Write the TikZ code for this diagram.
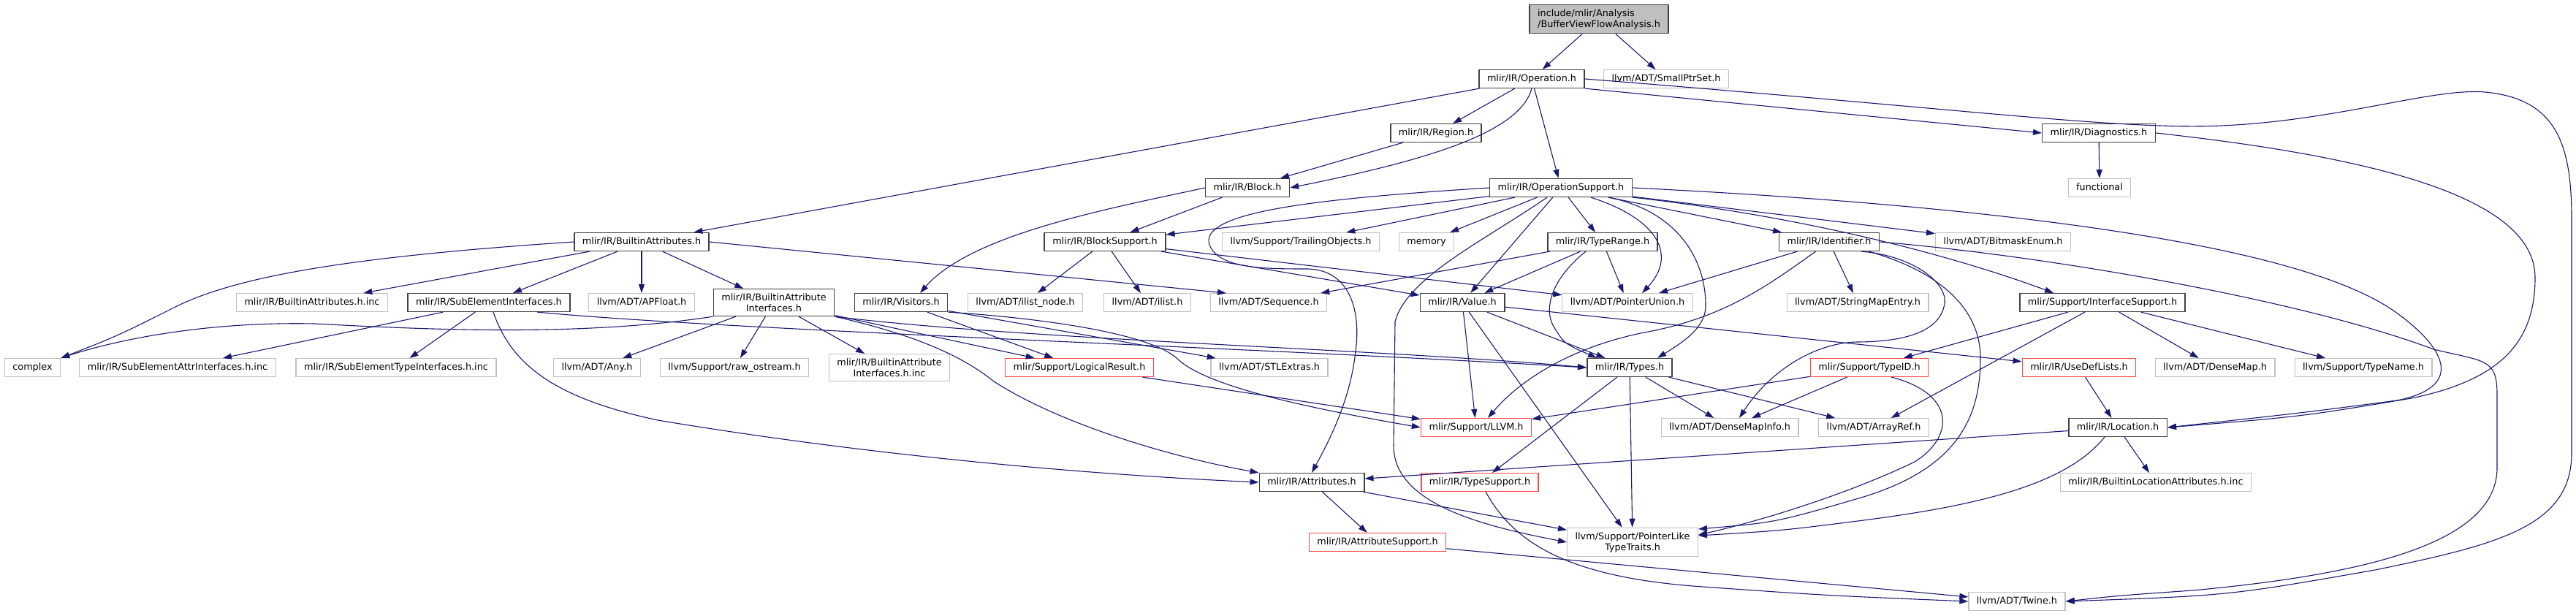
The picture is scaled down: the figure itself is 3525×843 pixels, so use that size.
\documentclass[tikz,border=0pt]{standalone}
\usepackage{fontspec}
\setmainfont{DejaVu Sans}
\usetikzlibrary{arrows.meta}
\definecolor{edgeblue}{RGB}{25,25,112}
\definecolor{cutred}{RGB}{255,70,70}
\tikzset{
  hdr/.style={draw=black!75,fill=white,line width=1.5pt,inner xsep=11pt,inner ysep=6pt,
    text height=9.7pt,text depth=3pt,font=\fontsize{12.8}{15}\selectfont},
  ext/.style={hdr,draw=black!25,line width=1.2pt},
  cut/.style={hdr,draw=cutred,line width=1.4pt},
  two/.style={align=center,text height=,text depth=},
  dep/.style={draw=edgeblue,line width=1.1pt,-{Triangle[length=12pt,width=8pt]}}
}
\begin{document}
\begin{tikzpicture}[x=1pt,y=-1pt]
\path[use as bounding box] (0,0) rectangle (3525,843);
\node[hdr,fill=black!25,align=left,text height=,text depth=] (root) at (2188,26) {include/mlir/Analysis\\/BufferViewFlowAnalysis.h};
\node[hdr] (op) at (2096,108) {mlir/IR/Operation.h};
\node[ext] (smallptr) at (2280,108) {llvm/ADT/SmallPtrSet.h};
\node[hdr] (region) at (1965,182) {mlir/IR/Region.h};
\node[hdr] (diag) at (2872,182) {mlir/IR/Diagnostics.h};
\node[hdr] (block) at (1707,257) {mlir/IR/Block.h};
\node[hdr] (opsup) at (2136,257) {mlir/IR/OperationSupport.h};
\node[ext] (functional) at (2873,257) {functional};
\node[hdr] (battr) at (878,331) {mlir/IR/BuiltinAttributes.h};
\node[hdr] (blocksup) at (1512,331) {mlir/IR/BlockSupport.h};
\node[ext] (trailing) at (1780,331) {llvm/Support/TrailingObjects.h};
\node[ext] (memory) at (1952,331) {memory};
\node[hdr] (typerange) at (2193,331) {mlir/IR/TypeRange.h};
\node[hdr] (ident) at (2503,331) {mlir/IR/Identifier.h};
\node[ext] (bitmask) at (2741,331) {llvm/ADT/BitmaskEnum.h};
\node[ext] (battrinc) at (427,414) {mlir/IR/BuiltinAttributes.h.inc};
\node[hdr] (subelem) at (669,414) {mlir/IR/SubElementInterfaces.h};
\node[ext] (apfloat) at (878,414) {llvm/ADT/APFloat.h};
\node[hdr,two] (battrif) at (1059,414) {mlir/IR/BuiltinAttribute\\Interfaces.h};
\node[hdr] (visitors) at (1233,414) {mlir/IR/Visitors.h};
\node[ext] (ilistnode) at (1403,414) {llvm/ADT/ilist\_node.h};
\node[ext] (ilist) at (1570,414) {llvm/ADT/ilist.h};
\node[ext] (sequence) at (1736,414) {llvm/ADT/Sequence.h};
\node[hdr] (value) at (2001,414) {mlir/IR/Value.h};
\node[ext] (ptrunion) at (2227,414) {llvm/ADT/PointerUnion.h};
\node[ext] (strmap) at (2542,414) {llvm/ADT/StringMapEntry.h};
\node[hdr] (ifsup) at (2877,414) {mlir/Support/InterfaceSupport.h};
\node[ext] (complex) at (44.5,503) {complex};
\node[ext] (seattrinc) at (243,503) {mlir/IR/SubElementAttrInterfaces.h.inc};
\node[ext] (setypeinc) at (542,503) {mlir/IR/SubElementTypeInterfaces.h.inc};
\node[ext] (any) at (817,503) {llvm/ADT/Any.h};
\node[ext] (rawos) at (1005,503) {llvm/Support/raw\_ostream.h};
\node[ext,two] (battrifinc) at (1217,503) {mlir/IR/BuiltinAttribute\\Interfaces.h.inc};
\node[cut] (logres) at (1477,503) {mlir/Support/LogicalResult.h};
\node[ext] (stlextras) at (1737,503) {llvm/ADT/STLExtras.h};
\node[hdr] (types) at (2230,503) {mlir/IR/Types.h};
\node[cut] (typeid) at (2558,503) {mlir/Support/TypeID.h};
\node[cut] (usedef) at (2845,503) {mlir/IR/UseDefLists.h};
\node[ext] (densemap) at (3031,503) {llvm/ADT/DenseMap.h};
\node[ext] (typename) at (3234,503) {llvm/Support/TypeName.h};
\node[cut] (llvmh) at (2020,585) {mlir/Support/LLVM.h};
\node[ext] (dmapinfo) at (2367,585) {llvm/ADT/DenseMapInfo.h};
\node[ext] (arrayref) at (2564,585) {llvm/ADT/ArrayRef.h};
\node[hdr] (location) at (2898,585) {mlir/IR/Location.h};
\node[hdr] (attrs) at (1795,660) {mlir/IR/Attributes.h};
\node[cut] (typesup) at (2025,660) {mlir/IR/TypeSupport.h};
\node[ext] (bllocinc) at (2950,660) {mlir/IR/BuiltinLocationAttributes.h.inc};
\node[cut] (attrsup) at (1885,742) {mlir/IR/AttributeSupport.h};
\node[ext,two] (pltt) at (2234,742) {llvm/Support/PointerLike\\TypeTraits.h};
\node[ext] (twine) at (2760,823) {llvm/ADT/Twine.h};
\draw[dep] (root) -- (op);
\draw[dep] (root) -- (smallptr);
\draw[dep] (op) -- (battr);
\draw[dep] (op) -- (region);
\draw[dep] (op.south) .. controls (2080,180) and (1960,218) .. (block.east);
\draw[dep] (op) -- (opsup);
\draw[dep] (op.south east) -- (diag.west);
\draw[dep] (op.east) .. controls (2700,150) and (2900,178) .. (3040,172) .. controls (3200,165) and (3330,120) .. (3400,126) .. controls (3500,135) and (3519,200) .. (3519,300) -- (3519,620) .. controls (3519,720) and (3420,745) .. (3250,780) .. controls (3050,815) .. (twine.east);
\draw[dep] (region) -- (block);
\draw[dep] (block) -- (blocksup);
\draw[dep] (block.west) .. controls (1520,285) and (1330,320) .. ([xshift=26]visitors.north);
\draw[dep] (diag) -- (functional);
\draw[dep] (diag.east) .. controls (3250,215) and (3469,270) .. (3469,380) .. controls (3469,470) and (3420,520) .. (3300,545) .. controls (3150,570) .. (location.east);
\draw[dep] (opsup) -- (blocksup);
\draw[dep] (opsup) -- (trailing);
\draw[dep] (opsup) -- (memory);
\draw[dep] (opsup) -- (typerange);
\draw[dep] (opsup) -- (ident);
\draw[dep] (opsup) -- (bitmask);
\draw[dep] (opsup) -- (value);
\draw[dep] (opsup) .. controls (2270,300) and (2295,350) .. ([xshift=20]ptrunion.north);
\draw[dep] (opsup) .. controls (2300,290) and (2335,360) .. (2334,420) .. controls (2333,450) and (2300,470) .. ([xshift=38]types.north);
\draw[dep] (opsup.west) .. controls (1800,272) and (1640,290) .. (1655,335) .. controls (1668,368) and (1730,368) .. (1790,368) .. controls (1850,370) and (1862,430) .. (1855,480) .. controls (1848,550) and (1815,610) .. (attrs.north);
\draw[dep] (opsup) .. controls (2030,330) and (1925,380) .. (1909,440) -- (1907,610) .. controls (1907,690) and (2030,720) .. (pltt.west);
\draw[dep] (opsup.east) .. controls (2700,280) and (3150,330) .. (3282,430) .. controls (3350,480) and (3370,530) .. (3280,548) .. controls (3150,565) .. (location.east);
\draw[dep] (opsup.south east) .. controls (2500,300) and (2700,360) .. ([xshift=-67]ifsup.north);
\draw[dep] (blocksup) -- (ilistnode);
\draw[dep] (blocksup) -- (ilist);
\draw[dep] (blocksup) -- (ptrunion);
\draw[dep] (blocksup) -- (value);
\draw[dep] (battr.west) .. controls (500,350) and (330,375) .. (240,420) .. controls (160,460) .. (complex.north east);
\draw[dep] (battr) -- (battrinc);
\draw[dep] (battr) -- (subelem);
\draw[dep] (battr) -- (apfloat);
\draw[dep] (battr) -- (battrif);
\draw[dep] (battr.east) -- ([xshift=-58]sequence.north);
\draw[dep] (subelem) -- (seattrinc);
\draw[dep] (subelem) -- (setypeinc);
\draw[dep] ([xshift=6]subelem.south) .. controls (700,500) and (760,545) .. (900,575) .. controls (1200,625) and (1500,650) .. (attrs.west);
\draw[dep] ([xshift=66]subelem.south) .. controls (1000,452) and (1700,475) .. (types.west);
\draw[dep] (battrif.south west) .. controls (800,460) and (600,452) .. (430,443) .. controls (280,440) and (160,465) .. (complex.north east);
\draw[dep] (battrif) -- (any);
\draw[dep] (battrif) -- (rawos);
\draw[dep] (battrif) -- (battrifinc);
\draw[dep] (battrif) -- (logres);
\draw[dep] (battrif.south east) .. controls (1260,460) and (1320,490) .. (1360,522) .. controls (1450,580) and (1600,625) .. (attrs.north west);
\draw[dep] (battrif.south east) .. controls (1400,465) and (1900,478) .. (types.west);
\draw[dep] (visitors) -- (logres);
\draw[dep] (visitors) -- (stlextras);
\draw[dep] (visitors.south east) .. controls (1420,435) and (1570,455) .. (1610,490) .. controls (1650,530) and (1800,560) .. (llvmh.west);
\draw[dep] (logres) -- (llvmh);
\draw[dep] (value) -- (llvmh);
\draw[dep] (value) -- (types);
\draw[dep] (value) -- (pltt);
\draw[dep] (value) -- (usedef);
\draw[dep] (typerange) -- (sequence);
\draw[dep] (typerange) -- (value);
\draw[dep] (typerange) -- (ptrunion);
\draw[dep] ([xshift=-23]typerange.south) .. controls (2125,380) and (2112,420) .. (2125,445) .. controls (2140,470) .. ([xshift=-45]types.north);
\draw[dep] (ident) -- (ptrunion);
\draw[dep] (ident) -- (strmap);
\draw[dep] (ident) .. controls (2420,390) and (2360,435) .. (2250,455) .. controls (2150,475) and (2080,520) .. ([xshift=16]llvmh.north);
\draw[dep] ([xshift=44]ident.south) .. controls (2620,350) and (2670,390) .. (2660,420) .. controls (2650,460) and (2590,468) .. (2540,468) .. controls (2480,470) and (2420,510) .. ([xshift=13]dmapinfo.north);
\draw[dep] ([xshift=54]ident.south) .. controls (2650,370) and (2710,420) .. (2710,490) .. controls (2710,570) and (2680,640) .. (2550,680) .. controls (2430,715) .. ([yshift=18]pltt.east);
\draw[dep] (ident.east) .. controls (2800,350) and (3150,410) .. (3330,478) .. controls (3400,495) and (3417,490) .. (3417,540) -- (3417,640) .. controls (3417,740) and (3250,785) .. (3000,808) .. controls (2900,815) .. (twine.east);
\draw[dep] (typeid) -- (llvmh);
\draw[dep] (typeid) -- (dmapinfo);
\draw[dep] ([xshift=30]typeid.south) .. controls (2680,540) and (2672,600) .. (2620,632) .. controls (2520,680) and (2400,715) .. ([yshift=10]pltt.east);
\draw[dep] (ifsup) -- (typeid);
\draw[dep] (ifsup) -- (arrayref);
\draw[dep] (ifsup) -- (densemap);
\draw[dep] (ifsup) -- (typename);
\draw[dep] (types) -- (typesup);
\draw[dep] (types) -- (pltt);
\draw[dep] (types) -- (dmapinfo);
\draw[dep] (types) -- (arrayref);
\draw[dep] (usedef) -- (location);
\draw[dep] (location) -- (bllocinc);
\draw[dep] (location) -- (attrs);
\draw[dep] ([xshift=-18]location.south) .. controls (2830,660) and (2720,690) .. (2550,712) .. controls (2440,726) .. ([yshift=9]pltt.east);
\draw[dep] (attrs) -- (attrsup);
\draw[dep] (attrs) -- (pltt);
\draw[dep] (attrsup) -- (twine);
\draw[dep] ([xshift=8]typesup.south) .. controls (2070,740) and (2140,790) .. (2330,803) .. controls (2500,815) .. (twine.west);
\end{tikzpicture}
\end{document}
